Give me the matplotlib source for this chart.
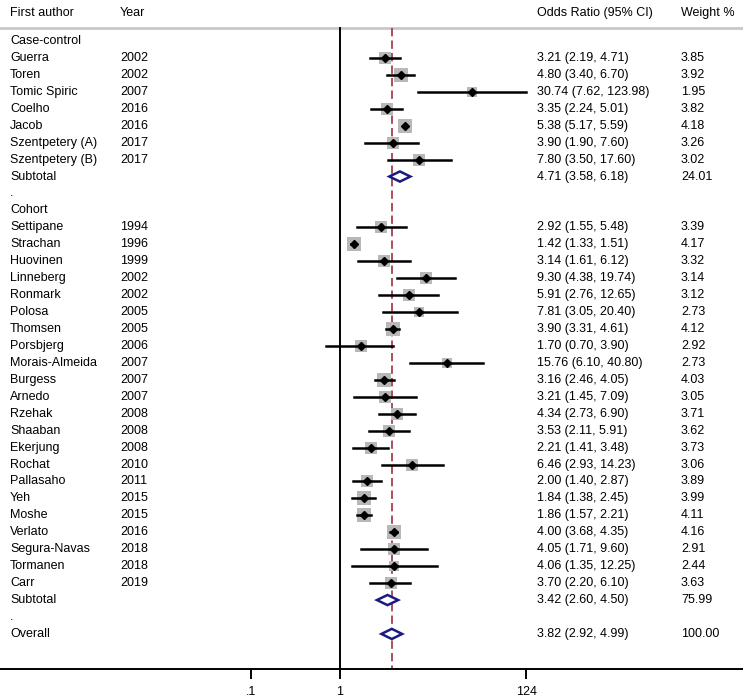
import matplotlib
matplotlib.use("Agg")
import matplotlib.pyplot as plt
import numpy as np

plt.rcParams['font.family'] = ['Liberation Sans', 'DejaVu Sans']

# rows of the table, top to bottom (kind: head / study / sub / blank)
labels = ["Case-control",
          "Guerra", "Toren", "Tomic Spiric", "Coelho", "Jacob", "Szentpetery (A)", "Szentpetery (B)",
          "Subtotal", ".", "Cohort",
          "Settipane", "Strachan", "Huovinen", "Linneberg", "Ronmark", "Polosa", "Thomsen",
          "Porsbjerg", "Morais-Almeida", "Burgess", "Arnedo", "Rzehak", "Shaaban", "Ekerjung",
          "Rochat", "Pallasaho", "Yeh", "Moshe", "Verlato", "Segura-Navas", "Tormanen", "Carr",
          "Subtotal", ".", "Overall"]
kinds = ["head"] + ["study"] * 7 + ["sub", "blank", "head"] + ["study"] * 22 + ["sub", "blank", "sub"]
years = ["", "2002", "2002", "2007", "2016", "2016", "2017", "2017", "", "", "",
         "1994", "1996", "1999", "2002", "2002", "2005", "2005", "2006", "2007", "2007", "2007",
         "2008", "2008", "2008", "2010", "2011", "2015", "2015", "2016", "2018", "2018", "2019",
         "", "", ""]
est = [None, 3.21, 4.80, 30.74, 3.35, 5.38, 3.90, 7.80, 4.71, None, None,
       2.92, 1.42, 3.14, 9.30, 5.91, 7.81, 3.90, 1.70, 15.76, 3.16, 3.21, 4.34, 3.53, 2.21,
       6.46, 2.00, 1.84, 1.86, 4.00, 4.05, 4.06, 3.70, 3.42, None, 3.82]
lo = [None, 2.19, 3.40, 7.62, 2.24, 5.17, 1.90, 3.50, 3.58, None, None,
      1.55, 1.33, 1.61, 4.38, 2.76, 3.05, 3.31, 0.70, 6.10, 2.46, 1.45, 2.73, 2.11, 1.41,
      2.93, 1.40, 1.38, 1.57, 3.68, 1.71, 1.35, 2.20, 2.60, None, 2.92]
hi = [None, 4.71, 6.70, 123.98, 5.01, 5.59, 7.60, 17.60, 6.18, None, None,
      5.48, 1.51, 6.12, 19.74, 12.65, 20.40, 4.61, 3.90, 40.80, 4.05, 7.09, 6.90, 5.91, 3.48,
      14.23, 2.87, 2.45, 2.21, 4.35, 9.60, 12.25, 6.10, 4.50, None, 4.99]
weights = [None, 3.85, 3.92, 1.95, 3.82, 4.18, 3.26, 3.02, 24.01, None, None,
           3.39, 4.17, 3.32, 3.14, 3.12, 2.73, 4.12, 2.92, 2.73, 4.03, 3.05, 3.71, 3.62, 3.73,
           3.06, 3.89, 3.99, 4.11, 4.16, 2.91, 2.44, 3.63, 75.99, None, 100.00]
overall = 3.82
xticks = [0.1, 1, 124]
xticklabels = [".1", "1", "124"]

fig = plt.figure(figsize=(7.43, 7.0), dpi=100)
ax = fig.add_axes([0, 31 / 700, 1, 669 / 700])
ax.set_xscale("log")
ax.set_xlim(10 ** (-340 / 89), 10 ** (403 / 89))
ax.set_ylim(37.07, -2.42)
for s in ["top", "left", "right"]:
    ax.spines[s].set_visible(False)
ax.spines["bottom"].set_linewidth(1.4)
ax.set_xticks(xticks)
ax.set_xticklabels(xticklabels, fontsize=9)
ax.minorticks_off()
ax.tick_params(axis="x", direction="out", length=7, width=1.4, pad=5)
ax.set_yticks([])

top = -0.77
ax.axhline(top, color="#c8c8c8", lw=2)
ax.plot([1, 1], [top, 37.07], color="black", lw=1.4)
ax.plot([overall, overall], [top, 37.07], color="#a03040", lw=1.2, dashes=(5, 2.5))

trans = ax.get_yaxis_transform()  # x in axes fraction, y in data
fs = 9
xn, xy, xo, xw = 10 / 743, 120 / 743, 537 / 743, 681 / 743
ax.text(xn, -1.65, "First author", transform=trans, fontsize=fs, va="center")
ax.text(xy, -1.65, "Year", transform=trans, fontsize=fs, va="center")
ax.text(xo, -1.65, "Odds Ratio (95% CI)", transform=trans, fontsize=fs, va="center")
ax.text(xw, -1.65, "Weight %", transform=trans, fontsize=fs, va="center")

wmax = 4.18
for i, lab in enumerate(labels):
    k = kinds[i]
    ax.text(xn, i, lab, transform=trans, fontsize=fs, va="center")
    if years[i]:
        ax.text(xy, i, years[i], transform=trans, fontsize=fs, va="center")
    if est[i] is None:
        continue
    ax.text(xo, i, f"{est[i]:.2f} ({lo[i]:.2f}, {hi[i]:.2f})", transform=trans, fontsize=fs, va="center")
    ax.text(xw, i, f"{weights[i]:.2f}", transform=trans, fontsize=fs, va="center")
    if k == "study":
        ax.scatter([est[i]], [i], marker="s", s=94 * weights[i] / wmax, color="#b8b8b8", zorder=3, linewidths=0)
        ax.plot([lo[i], hi[i]], [i, i], color="black", lw=1.8, zorder=4)
        ax.plot([est[i]], [i], marker="D", color="black", markersize=4, zorder=5)
    else:
        h = 0.3
        ax.fill([lo[i], est[i], hi[i], est[i]], [i, i - h, i, i + h], facecolor="white",
                edgecolor="#1a1a80", lw=1.8, zorder=4)

fig.savefig("out.png", dpi=100)
